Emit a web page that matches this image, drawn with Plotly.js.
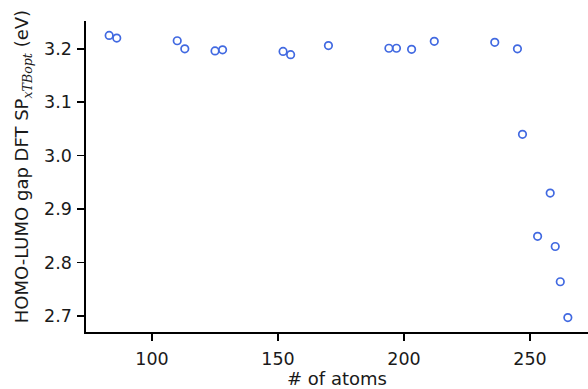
<!DOCTYPE html>
<html>
<head>
<meta charset="utf-8">
<script src="https://cdn.plot.ly/plotly-3.0.1.min.js"></script>
<style>html,body{margin:0;padding:0;background:#fff;}#chart{width:588px;height:389px;}</style>
</head>
<body>
<div id="chart"></div>
<script>
// number of atoms
const atoms = [83, 86, 110, 113, 125, 128, 152, 155, 170, 194, 197, 203, 212, 236, 245, 247, 258, 253, 260, 262, 265];
// HOMO-LUMO gap (eV)
const gap = [3.225, 3.220, 3.215, 3.200, 3.196, 3.198, 3.195, 3.189, 3.206, 3.201, 3.201, 3.199, 3.214, 3.212, 3.200, 3.040, 2.930, 2.849, 2.830, 2.764, 2.697];
const yTicks = [2.7, 2.8, 2.9, 3.0, 3.1, 3.2];
const xTicks = [100, 150, 200, 250];
const yTitle = 'HOMO-LUMO gap DFT SP<sub><span style="font-family:DejaVu Serif"><i>xTBopt</i></span></sub> (eV)';

const tickFont = {family: 'DejaVu Sans', size: 17.5, color: '#1a1a1a'};
const titleFont = {family: 'DejaVu Sans', size: 18, color: '#1a1a1a'};

Plotly.newPlot('chart', [{
  x: atoms, y: gap, type: 'scatter', mode: 'markers',
  marker: {symbol: 'circle-open', size: 7.5, color: '#4169e1', line: {width: 1.7, color: '#4169e1'}},
  hoverinfo: 'skip'
}], {
  width: 588, height: 389,
  margin: {l: 86, r: 0, t: 21, b: 57},
  paper_bgcolor: '#fff', plot_bgcolor: '#fff',
  showlegend: false,
  font: tickFont,
  xaxis: {
    range: [73.8, 273.0], tickvals: xTicks, ticktext: xTicks.map(String),
    showgrid: false, zeroline: false, showline: true, linecolor: '#000', linewidth: 1.6,
    ticks: 'outside', ticklen: 7, tickwidth: 1.6, tickcolor: '#000',
    tickfont: tickFont, ticklabelstandoff: 3,
    title: {text: '# of atoms', font: titleFont, standoff: 4}
  },
  yaxis: {
    range: [2.670, 3.252], tickvals: yTicks, ticktext: yTicks.map(v => v.toFixed(1)),
    showgrid: false, zeroline: false, showline: true, linecolor: '#000', linewidth: 1.6,
    ticks: 'outside', ticklen: 7, tickwidth: 1.6, tickcolor: '#000',
    tickfont: tickFont, ticklabelstandoff: 2
  },
  annotations: [{
    text: yTitle, font: titleFont, textangle: -90, showarrow: false,
    xref: 'paper', yref: 'paper', x: 0, y: 0.53, xanchor: 'center', yanchor: 'middle', xshift: -63
  }]
}, {staticPlot: true, displayModeBar: false});
</script>
</body>
</html>
